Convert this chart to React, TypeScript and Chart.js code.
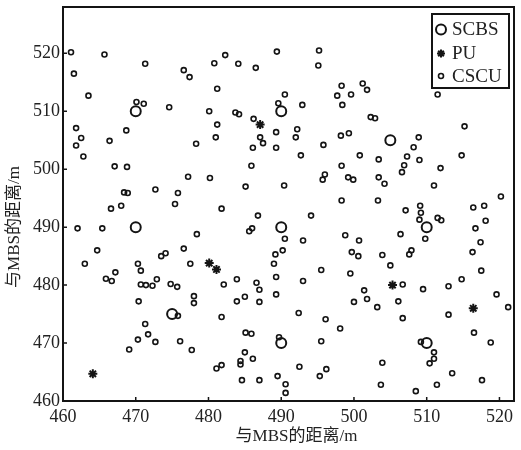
import React, { useEffect, useRef } from "react";
import { Chart, registerables } from "chart.js";

Chart.register(...registerables);

// Series: [x, y] distances to MBS (m)
const scbsPoints: [number, number][] = [
  [470, 510], [490, 510], [505, 505], [470, 490], [490, 490], [510, 490],
  [475, 475], [490, 470], [510, 470],
];

const puPoints: [number, number][] = [
  [487.1, 507.7], [480.1, 483.8], [481.1, 482.7], [505.3, 480.0], [464.1, 464.7], [516.4, 476.0],
];

const cscuPoints: [number, number][] = [
  [461.1, 520.2], [465.7, 519.8], [471.3, 518.2], [476.6, 517.1], [477.4, 515.9], [461.5, 516.5],
  [463.5, 512.7], [470.1, 511.6], [471.1, 511.3], [474.6, 510.7], [461.8, 507.1], [462.5, 505.4],
  [461.8, 504.1], [466.4, 504.9], [468.7, 506.7], [478.3, 504.4], [482.3, 519.7], [480.8, 518.3],
  [484.1, 518.2], [486.5, 517.5], [489.4, 520.3], [495.2, 520.5], [495.1, 517.9], [481.2, 513.9],
  [480.1, 510.0], [483.7, 509.8], [484.2, 509.5], [490.5, 512.9], [489.6, 511.4], [492.9, 511.1],
  [486.2, 508.7], [481.2, 507.7], [481.0, 505.5], [487.1, 505.5], [487.5, 504.5], [486.1, 503.7],
  [489.3, 506.4], [489.3, 503.7], [492.2, 506.9], [492.0, 505.5], [495.8, 504.2], [498.3, 514.4],
  [497.7, 512.7], [499.6, 512.9], [498.4, 511.1], [501.2, 514.8], [501.8, 513.7], [502.3, 509.0],
  [502.9, 508.8], [498.2, 505.8], [499.3, 506.2], [511.5, 512.9], [515.2, 507.4], [508.9, 505.5],
  [508.2, 503.8],
  [462.8, 502.2], [467.1, 500.5], [468.8, 500.4], [477.2, 498.7], [468.4, 496.0], [468.9, 495.9],
  [472.7, 496.5], [475.8, 495.9], [475.4, 494.0], [466.6, 493.2], [468.0, 493.7], [462.0, 489.8],
  [465.4, 489.8], [478.4, 488.8], [464.7, 486.0], [463.0, 483.7], [473.5, 485.0], [474.1, 485.5],
  [476.6, 486.3], [477.5, 483.7], [470.3, 483.7], [470.7, 482.5], [467.2, 482.2], [465.9, 481.1],
  [466.7, 480.7], [470.7, 480.1], [471.4, 480.0], [472.3, 479.9], [472.9, 481.0], [474.8, 480.2],
  [475.7, 479.7], [492.7, 502.4], [500.8, 502.4], [485.9, 500.6], [498.3, 500.6], [496.0, 499.1],
  [495.7, 498.2], [499.2, 498.6], [499.9, 498.2], [480.2, 498.5], [485.1, 497.0], [490.4, 497.2],
  [498.3, 494.6], [481.8, 493.2], [486.8, 492.0], [494.1, 492.0], [486.0, 489.8], [485.6, 489.3],
  [490.5, 488.0], [493.0, 487.7], [498.8, 488.6], [500.7, 487.7], [499.7, 485.7], [500.6, 485.0],
  [490.2, 486.0], [489.2, 485.3], [489.0, 483.7], [495.5, 482.6], [499.5, 482.0], [489.3, 481.4],
  [483.9, 481.0], [482.1, 480.1], [486.6, 480.4], [493.0, 480.7], [501.4, 479.1], [503.4, 501.7],
  [507.3, 502.2], [509.0, 501.6], [514.8, 502.4], [506.9, 500.7], [506.6, 499.5], [511.9, 500.2],
  [503.4, 498.6], [504.2, 497.5], [511.0, 497.2], [520.2, 495.3], [503.3, 494.6], [509.1, 493.7],
  [509.2, 492.5], [507.1, 492.9], [509.0, 491.3], [511.5, 491.6], [512.0, 491.2], [509.8, 488.0],
  [506.4, 488.8], [516.4, 493.4], [517.9, 493.7], [518.1, 491.1], [516.7, 489.8], [517.4, 487.4],
  [516.3, 485.7], [517.5, 482.5], [503.9, 485.2], [507.9, 486.0], [507.6, 485.3], [505.0, 483.4],
  [506.7, 480.1], [509.5, 479.3], [513.0, 479.8], [514.8, 481.0],
  [478.0, 478.1], [478.0, 476.9], [470.4, 477.2], [475.8, 474.7], [471.3, 473.3], [471.7, 471.5],
  [470.3, 470.6], [472.7, 470.2], [469.1, 468.9], [476.1, 470.3], [477.7, 468.8], [487.0, 479.2],
  [489.3, 478.4], [485.0, 478.0], [483.9, 477.2], [487.0, 477.1], [481.8, 474.5], [492.4, 475.2],
  [496.1, 474.1], [498.1, 472.5], [500.0, 477.1], [501.8, 477.6], [503.2, 476.2], [485.1, 471.8],
  [485.9, 471.6], [489.7, 471.0], [495.5, 470.3], [485.0, 468.4], [486.1, 467.3], [484.4, 466.9],
  [484.4, 466.3], [481.8, 466.2], [481.1, 465.6], [492.5, 465.9], [496.2, 465.5], [495.3, 464.3],
  [489.5, 464.3], [484.6, 463.6], [487.0, 463.6], [490.6, 462.9], [490.6, 461.4], [506.1, 477.2],
  [506.7, 474.3], [513.0, 474.9], [519.6, 478.4], [521.2, 476.2], [516.5, 471.8], [518.8, 470.1],
  [509.2, 470.2], [511.0, 468.4], [511.0, 467.3], [510.4, 466.5], [503.9, 466.6], [513.5, 464.8],
  [517.6, 463.6], [503.7, 462.8], [511.4, 462.8], [508.5, 461.7],
];

const seriesNames = ["SCBS", "PU", "CSCU"];
const xRange = [460, 522];
const yRange = [460, 528];
const xTickValues = [460, 470, 480, 490, 500, 510, 520];
const yTickValues = [460, 470, 480, 490, 500, 510, 520];
const xTitle = "与MBS的距离/m";
const yTitle = "与MBS的距离/m";

const INK = "#141414";
const SERIF = '"Liberation Serif", "Times New Roman", serif';
const TITLE_FONT = '"Liberation Serif", "Noto Sans CJK SC", serif';

function drawMarker(ctx: CanvasRenderingContext2D, kind: string, x: number, y: number) {
  ctx.save();
  ctx.strokeStyle = INK;
  if (kind === "SCBS") {
    ctx.lineWidth = 2;
    ctx.beginPath();
    ctx.arc(x, y, 5, 0, Math.PI * 2);
    ctx.stroke();
  } else if (kind === "CSCU") {
    ctx.lineWidth = 1.6;
    ctx.beginPath();
    ctx.arc(x, y, 2.5, 0, Math.PI * 2);
    ctx.stroke();
  } else {
    ctx.lineWidth = 2;
    const r = 4;
    ctx.beginPath();
    for (let i = 0; i < 4; i++) {
      const a = (i * Math.PI) / 4;
      ctx.moveTo(x - r * Math.cos(a), y - r * Math.sin(a));
      ctx.lineTo(x + r * Math.cos(a), y + r * Math.sin(a));
    }
    ctx.stroke();
  }
  ctx.restore();
}

const framePlugin = {
  id: "frameAndExtras",
  afterDraw(chart: any) {
    const { ctx, chartArea } = chart;
    const { left, right, top, bottom } = chartArea;
    const xs = chart.scales.x;
    const ys = chart.scales.y;
    ctx.save();
    // frame
    ctx.strokeStyle = INK;
    ctx.lineWidth = 2;
    ctx.strokeRect(left, top, right - left, bottom - top);
    // inward ticks
    ctx.lineWidth = 1.5;
    ctx.beginPath();
    xs.ticks.forEach((t: any) => {
      const px = xs.getPixelForValue(t.value);
      ctx.moveTo(px, bottom);
      ctx.lineTo(px, bottom - 4);
    });
    ys.ticks.forEach((t: any) => {
      const py = ys.getPixelForValue(t.value);
      ctx.moveTo(left, py);
      ctx.lineTo(left + 4, py);
    });
    ctx.stroke();

    // axis titles
    ctx.fillStyle = "#222";
    ctx.font = "17px " + TITLE_FONT;
    ctx.textAlign = "center";
    ctx.textBaseline = "middle";
    ctx.fillText(xTitle, (left + right) / 2 + 8, bottom + 36);
    ctx.save();
    ctx.translate(15, (top + bottom) / 2 + 23);
    ctx.rotate(-Math.PI / 2);
    ctx.fillText(yTitle, 0, 0);
    ctx.restore();

    // legend
    const bx = right - 82;
    const by = top + 7;
    const bw = 77;
    const bh = 74;
    ctx.fillStyle = "#fff";
    ctx.fillRect(bx, by, bw, bh);
    ctx.strokeStyle = INK;
    ctx.lineWidth = 2;
    ctx.strokeRect(bx, by, bw, bh);
    const rows = [15.5, 39.5, 62];
    ctx.font = "19px " + SERIF;
    ctx.textAlign = "left";
    ctx.textBaseline = "middle";
    ctx.fillStyle = "#222";
    seriesNames.forEach((name, i) => {
      drawMarker(ctx, name, bx + 9, by + rows[i]);
      ctx.fillText(name, bx + 20, by + rows[i] + 1);
    });
    ctx.restore();
  },
};

export default function App() {
  const ref = useRef<HTMLCanvasElement>(null);
  useEffect(() => {
    if (!ref.current) return;
    const toData = (arr: [number, number][]) => arr.map(([x, y]) => ({ x, y }));
    const chart = new Chart(ref.current, {
      type: "scatter",
      data: {
        datasets: [
          {
            label: seriesNames[2],
            data: toData(cscuPoints),
            pointStyle: "circle",
            pointRadius: 2.5,
            pointBorderWidth: 1.6,
            borderColor: INK,
            backgroundColor: "rgba(0,0,0,0)",
          },
          {
            label: seriesNames[1],
            data: toData(puPoints),
            pointStyle: "star",
            pointRadius: 4.5,
            pointBorderWidth: 2,
            borderColor: INK,
            backgroundColor: INK,
          },
          {
            label: seriesNames[0],
            data: toData(scbsPoints),
            pointStyle: "circle",
            pointRadius: 5,
            pointBorderWidth: 2,
            borderColor: INK,
            backgroundColor: "rgba(0,0,0,0)",
          },
        ],
      },
      options: {
        responsive: false,
        animation: false,
        layout: { padding: { top: 6, right: 3, left: 0, bottom: 0 } },
        plugins: {
          legend: { display: false },
          tooltip: { enabled: false },
        },
        scales: {
          x: {
            type: "linear",
            min: xRange[0],
            max: xRange[1],
            grid: { display: false, drawTicks: false },
            border: { display: false },
            afterBuildTicks: (s: any) => {
              s.ticks = xTickValues.map((v) => ({ value: v }));
            },
            ticks: {
              color: "#222",
              font: { family: SERIF, size: 18 },
              padding: 5,
              maxRotation: 0,
              autoSkip: false,
            },
            afterFit: (s: any) => {
              s.height = 49;
              s.paddingLeft = 0;
              s.paddingRight = 0;
            },
          },
          y: {
            type: "linear",
            min: yRange[0],
            max: yRange[1],
            grid: { display: false, drawTicks: false },
            border: { display: false },
            afterBuildTicks: (s: any) => {
              s.ticks = yTickValues.map((v) => ({ value: v }));
            },
            ticks: {
              color: "#222",
              font: { family: SERIF, size: 18 },
              padding: 3,
              autoSkip: false,
            },
            afterFit: (s: any) => {
              s.width = 63;
              s.paddingTop = 0;
              s.paddingBottom = 0;
            },
          },
        },
      },
      plugins: [framePlugin],
    } as any);
    return () => chart.destroy();
  }, []);
  return (
    <div style={{ position: "fixed", left: 0, top: 0, width: 521, height: 450, background: "#fff" }}>
      <canvas ref={ref} width={521} height={450} style={{ display: "block" }} />
    </div>
  );
}
